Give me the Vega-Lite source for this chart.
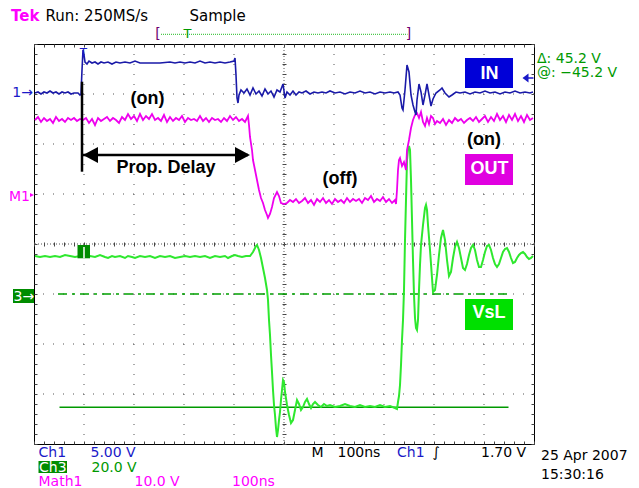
{
"$schema": "https://vega.github.io/schema/vega-lite/v6.json",
"width": 500, "height": 400,
"autosize": {"type": "none"},
"padding": {"left": 34, "top": 44, "right": 105, "bottom": 44},
"background": "white",
"config": {"view": {"stroke": "#000", "strokeWidth": 1}, "text": {"font": "DejaVu Sans"}},
"resolve": {"axis": {"x": "independent", "y": "independent"}},
"datasets": {
"inp": [{"t":2,"v":3.02},{"t":8,"v":3.04},{"t":14,"v":3.0},{"t":20,"v":3.04},{"t":26,"v":3.02},{"t":32,"v":3.06},{"t":38,"v":3.02},{"t":44,"v":3.04},{"t":50,"v":3.0},{"t":56,"v":3.04},{"t":62,"v":3.02},{"t":68,"v":3.04},{"t":74,"v":3.0},{"t":80,"v":3.02},{"t":88,"v":3.02},{"t":92,"v":2.98},{"t":94,"v":3.0},{"t":96,"v":3.48},{"t":98,"v":3.88},{"t":100,"v":3.78},{"t":102,"v":3.64},{"t":106,"v":3.6},{"t":110,"v":3.66},{"t":116,"v":3.62},{"t":122,"v":3.64},{"t":128,"v":3.6},{"t":134,"v":3.64},{"t":140,"v":3.62},{"t":148,"v":3.64},{"t":156,"v":3.6},{"t":164,"v":3.64},{"t":172,"v":3.62},{"t":182,"v":3.64},{"t":192,"v":3.62},{"t":202,"v":3.66},{"t":212,"v":3.62},{"t":232,"v":3.62},{"t":252,"v":3.62},{"t":272,"v":3.64},{"t":282,"v":3.62},{"t":292,"v":3.64},{"t":302,"v":3.62},{"t":312,"v":3.64},{"t":322,"v":3.62},{"t":332,"v":3.66},{"t":342,"v":3.62},{"t":352,"v":3.64},{"t":362,"v":3.62},{"t":372,"v":3.64},{"t":382,"v":3.62},{"t":392,"v":3.64},{"t":400,"v":3.66},{"t":402,"v":3.72},{"t":404,"v":3.38},{"t":406,"v":2.92},{"t":408,"v":2.82},{"t":410,"v":2.98},{"t":414,"v":3.08},{"t":420,"v":3.02},{"t":426,"v":3.1},{"t":432,"v":2.98},{"t":438,"v":3.12},{"t":444,"v":3.0},{"t":450,"v":3.06},{"t":456,"v":2.96},{"t":462,"v":3.1},{"t":468,"v":3.0},{"t":474,"v":3.06},{"t":480,"v":2.94},{"t":486,"v":3.08},{"t":492,"v":3.04},{"t":498,"v":3.2},{"t":502,"v":2.92},{"t":506,"v":3.04},{"t":512,"v":2.98},{"t":518,"v":3.06},{"t":524,"v":2.98},{"t":530,"v":3.04},{"t":536,"v":3.02},{"t":544,"v":3.06},{"t":552,"v":3.0},{"t":560,"v":3.04},{"t":568,"v":3.02},{"t":576,"v":3.04},{"t":584,"v":3.02},{"t":592,"v":3.06},{"t":602,"v":3.02},{"t":612,"v":3.04},{"t":622,"v":3.0},{"t":632,"v":3.04},{"t":642,"v":3.02},{"t":652,"v":3.06},{"t":662,"v":3.02},{"t":672,"v":3.04},{"t":682,"v":3.0},{"t":692,"v":3.04},{"t":702,"v":3.02},{"t":712,"v":3.04},{"t":720,"v":3.02},{"t":728,"v":3.04},{"t":732,"v":2.98},{"t":736,"v":2.72},{"t":738,"v":2.68},{"t":742,"v":3.08},{"t":746,"v":3.58},{"t":750,"v":3.44},{"t":754,"v":2.98},{"t":758,"v":2.78},{"t":762,"v":2.64},{"t":764,"v":2.58},{"t":766,"v":2.88},{"t":770,"v":3.2},{"t":774,"v":3.04},{"t":778,"v":2.78},{"t":782,"v":2.98},{"t":786,"v":3.2},{"t":790,"v":2.98},{"t":794,"v":2.76},{"t":798,"v":2.9},{"t":804,"v":3.02},{"t":812,"v":3.08},{"t":816,"v":3.12},{"t":822,"v":3.02},{"t":830,"v":2.94},{"t":836,"v":2.98},{"t":844,"v":3.04},{"t":852,"v":3.02},{"t":862,"v":3.04},{"t":872,"v":3.0},{"t":882,"v":3.04},{"t":892,"v":3.02},{"t":902,"v":3.06},{"t":912,"v":3.02},{"t":922,"v":3.04},{"t":932,"v":3.0},{"t":942,"v":3.04},{"t":952,"v":3.02},{"t":962,"v":3.06},{"t":972,"v":3.02},{"t":982,"v":3.04},{"t":992,"v":3.02},{"t":998,"v":3.04}],
"out": [{"t":2,"v":2.48},{"t":8,"v":2.54},{"t":14,"v":2.44},{"t":20,"v":2.52},{"t":26,"v":2.46},{"t":32,"v":2.5},{"t":38,"v":2.42},{"t":44,"v":2.54},{"t":50,"v":2.46},{"t":56,"v":2.5},{"t":62,"v":2.44},{"t":68,"v":2.52},{"t":74,"v":2.48},{"t":80,"v":2.52},{"t":86,"v":2.46},{"t":92,"v":2.5},{"t":98,"v":2.48},{"t":104,"v":2.52},{"t":110,"v":2.42},{"t":116,"v":2.5},{"t":122,"v":2.38},{"t":128,"v":2.52},{"t":134,"v":2.46},{"t":140,"v":2.5},{"t":146,"v":2.54},{"t":152,"v":2.46},{"t":158,"v":2.52},{"t":164,"v":2.48},{"t":170,"v":2.42},{"t":176,"v":2.54},{"t":182,"v":2.48},{"t":188,"v":2.6},{"t":194,"v":2.5},{"t":200,"v":2.56},{"t":206,"v":2.46},{"t":212,"v":2.6},{"t":218,"v":2.48},{"t":224,"v":2.56},{"t":230,"v":2.5},{"t":236,"v":2.6},{"t":242,"v":2.48},{"t":248,"v":2.52},{"t":254,"v":2.46},{"t":260,"v":2.58},{"t":266,"v":2.44},{"t":272,"v":2.54},{"t":278,"v":2.46},{"t":284,"v":2.52},{"t":290,"v":2.48},{"t":296,"v":2.56},{"t":302,"v":2.44},{"t":308,"v":2.52},{"t":314,"v":2.48},{"t":320,"v":2.5},{"t":326,"v":2.46},{"t":332,"v":2.56},{"t":338,"v":2.46},{"t":344,"v":2.52},{"t":350,"v":2.44},{"t":356,"v":2.52},{"t":362,"v":2.48},{"t":368,"v":2.5},{"t":374,"v":2.44},{"t":380,"v":2.52},{"t":386,"v":2.46},{"t":392,"v":2.56},{"t":398,"v":2.48},{"t":404,"v":2.54},{"t":410,"v":2.46},{"t":416,"v":2.5},{"t":422,"v":2.44},{"t":426,"v":2.52},{"t":428,"v":2.56},{"t":430,"v":2.38},{"t":432,"v":2.14},{"t":436,"v":1.88},{"t":438,"v":1.68},{"t":440,"v":1.58},{"t":444,"v":1.38},{"t":446,"v":1.28},{"t":450,"v":1.08},{"t":454,"v":0.92},{"t":458,"v":0.82},{"t":462,"v":0.68},{"t":466,"v":0.58},{"t":468,"v":0.52},{"t":472,"v":0.6},{"t":476,"v":0.74},{"t":480,"v":0.92},{"t":486,"v":1.04},{"t":490,"v":0.96},{"t":494,"v":0.82},{"t":500,"v":0.8},{"t":506,"v":0.82},{"t":512,"v":0.88},{"t":518,"v":0.84},{"t":524,"v":0.9},{"t":530,"v":0.82},{"t":536,"v":0.86},{"t":542,"v":0.92},{"t":548,"v":0.82},{"t":554,"v":0.88},{"t":560,"v":0.78},{"t":566,"v":0.9},{"t":572,"v":0.84},{"t":578,"v":0.92},{"t":584,"v":0.82},{"t":590,"v":0.88},{"t":596,"v":0.8},{"t":602,"v":0.9},{"t":608,"v":0.84},{"t":614,"v":0.88},{"t":620,"v":0.82},{"t":626,"v":0.92},{"t":632,"v":0.84},{"t":638,"v":0.9},{"t":644,"v":0.86},{"t":650,"v":0.9},{"t":656,"v":0.82},{"t":662,"v":0.92},{"t":668,"v":0.88},{"t":674,"v":0.96},{"t":680,"v":0.84},{"t":686,"v":0.9},{"t":692,"v":0.86},{"t":698,"v":0.94},{"t":704,"v":0.84},{"t":710,"v":0.9},{"t":716,"v":0.82},{"t":722,"v":0.88},{"t":724,"v":0.8},{"t":726,"v":1.08},{"t":728,"v":1.48},{"t":730,"v":1.68},{"t":732,"v":1.72},{"t":736,"v":1.56},{"t":740,"v":1.64},{"t":744,"v":1.48},{"t":746,"v":1.88},{"t":750,"v":2.08},{"t":754,"v":2.32},{"t":758,"v":2.48},{"t":762,"v":2.58},{"t":766,"v":2.62},{"t":770,"v":2.52},{"t":774,"v":2.64},{"t":778,"v":2.44},{"t":782,"v":2.36},{"t":786,"v":2.52},{"t":790,"v":2.4},{"t":794,"v":2.56},{"t":798,"v":2.52},{"t":802,"v":2.4},{"t":806,"v":2.46},{"t":812,"v":2.42},{"t":818,"v":2.5},{"t":824,"v":2.38},{"t":830,"v":2.48},{"t":836,"v":2.42},{"t":842,"v":2.52},{"t":848,"v":2.46},{"t":854,"v":2.5},{"t":860,"v":2.42},{"t":866,"v":2.48},{"t":872,"v":2.52},{"t":878,"v":2.46},{"t":884,"v":2.54},{"t":890,"v":2.44},{"t":896,"v":2.5},{"t":902,"v":2.56},{"t":908,"v":2.44},{"t":914,"v":2.54},{"t":920,"v":2.46},{"t":926,"v":2.6},{"t":932,"v":2.48},{"t":938,"v":2.56},{"t":944,"v":2.44},{"t":950,"v":2.58},{"t":956,"v":2.48},{"t":962,"v":2.6},{"t":968,"v":2.46},{"t":974,"v":2.56},{"t":980,"v":2.44},{"t":986,"v":2.58},{"t":992,"v":2.48},{"t":998,"v":2.52}],
"vsl": [{"t":2,"v":-0.24},{"t":12,"v":-0.26},{"t":22,"v":-0.24},{"t":32,"v":-0.26},{"t":42,"v":-0.24},{"t":52,"v":-0.26},{"t":62,"v":-0.22},{"t":72,"v":-0.24},{"t":82,"v":-0.26},{"t":92,"v":-0.24},{"t":102,"v":-0.26},{"t":112,"v":-0.24},{"t":122,"v":-0.26},{"t":132,"v":-0.22},{"t":142,"v":-0.26},{"t":148,"v":-0.28},{"t":156,"v":-0.24},{"t":162,"v":-0.26},{"t":172,"v":-0.24},{"t":182,"v":-0.28},{"t":188,"v":-0.24},{"t":196,"v":-0.26},{"t":202,"v":-0.28},{"t":212,"v":-0.24},{"t":222,"v":-0.26},{"t":232,"v":-0.24},{"t":242,"v":-0.28},{"t":252,"v":-0.24},{"t":262,"v":-0.26},{"t":272,"v":-0.24},{"t":282,"v":-0.28},{"t":292,"v":-0.26},{"t":302,"v":-0.24},{"t":312,"v":-0.26},{"t":322,"v":-0.24},{"t":332,"v":-0.26},{"t":342,"v":-0.24},{"t":352,"v":-0.28},{"t":362,"v":-0.24},{"t":372,"v":-0.26},{"t":382,"v":-0.24},{"t":388,"v":-0.28},{"t":396,"v":-0.24},{"t":402,"v":-0.22},{"t":408,"v":-0.24},{"t":416,"v":-0.26},{"t":424,"v":-0.24},{"t":432,"v":-0.24},{"t":438,"v":-0.16},{"t":444,"v":-0.04},{"t":446,"v":-0.02},{"t":450,"v":-0.12},{"t":454,"v":-0.28},{"t":458,"v":-0.48},{"t":462,"v":-0.68},{"t":466,"v":-0.92},{"t":468,"v":-1.12},{"t":470,"v":-1.52},{"t":472,"v":-1.82},{"t":474,"v":-2.22},{"t":476,"v":-2.56},{"t":478,"v":-2.92},{"t":480,"v":-3.22},{"t":482,"v":-3.42},{"t":484,"v":-3.68},{"t":486,"v":-3.86},{"t":488,"v":-3.72},{"t":490,"v":-3.52},{"t":492,"v":-3.36},{"t":494,"v":-3.12},{"t":496,"v":-2.92},{"t":498,"v":-2.72},{"t":500,"v":-2.76},{"t":502,"v":-2.96},{"t":506,"v":-3.22},{"t":510,"v":-3.42},{"t":514,"v":-3.58},{"t":518,"v":-3.52},{"t":522,"v":-3.32},{"t":526,"v":-3.12},{"t":530,"v":-3.2},{"t":534,"v":-3.32},{"t":538,"v":-3.26},{"t":542,"v":-3.16},{"t":546,"v":-3.1},{"t":550,"v":-3.2},{"t":554,"v":-3.28},{"t":558,"v":-3.2},{"t":562,"v":-3.16},{"t":568,"v":-3.22},{"t":574,"v":-3.26},{"t":580,"v":-3.2},{"t":586,"v":-3.24},{"t":592,"v":-3.22},{"t":602,"v":-3.26},{"t":612,"v":-3.24},{"t":622,"v":-3.2},{"t":632,"v":-3.24},{"t":642,"v":-3.26},{"t":652,"v":-3.22},{"t":662,"v":-3.26},{"t":672,"v":-3.24},{"t":682,"v":-3.26},{"t":692,"v":-3.22},{"t":702,"v":-3.26},{"t":712,"v":-3.24},{"t":722,"v":-3.28},{"t":726,"v":-3.3},{"t":728,"v":-3.16},{"t":730,"v":-3.04},{"t":732,"v":-2.82},{"t":734,"v":-2.42},{"t":736,"v":-1.92},{"t":738,"v":-1.52},{"t":740,"v":-0.92},{"t":742,"v":0.08},{"t":744,"v":0.88},{"t":746,"v":1.68},{"t":748,"v":1.88},{"t":750,"v":1.96},{"t":752,"v":1.88},{"t":754,"v":1.28},{"t":756,"v":0.48},{"t":758,"v":-0.32},{"t":760,"v":-1.02},{"t":762,"v":-1.48},{"t":764,"v":-1.68},{"t":766,"v":-1.72},{"t":768,"v":-1.52},{"t":770,"v":-0.92},{"t":772,"v":-0.42},{"t":774,"v":-0.02},{"t":778,"v":0.38},{"t":782,"v":0.72},{"t":784,"v":0.78},{"t":786,"v":0.68},{"t":788,"v":0.38},{"t":792,"v":-0.12},{"t":796,"v":-0.68},{"t":798,"v":-0.96},{"t":802,"v":-0.92},{"t":806,"v":-0.62},{"t":810,"v":-0.22},{"t":814,"v":0.12},{"t":818,"v":0.28},{"t":822,"v":0.08},{"t":826,"v":-0.32},{"t":830,"v":-0.64},{"t":834,"v":-0.56},{"t":838,"v":-0.28},{"t":842,"v":-0.06},{"t":846,"v":0.04},{"t":850,"v":-0.08},{"t":854,"v":-0.28},{"t":858,"v":-0.48},{"t":862,"v":-0.52},{"t":866,"v":-0.4},{"t":870,"v":-0.22},{"t":874,"v":-0.08},{"t":878,"v":-0.02},{"t":882,"v":-0.12},{"t":886,"v":-0.32},{"t":890,"v":-0.46},{"t":894,"v":-0.46},{"t":898,"v":-0.32},{"t":902,"v":-0.16},{"t":906,"v":-0.04},{"t":910,"v":-0.02},{"t":914,"v":-0.12},{"t":918,"v":-0.28},{"t":922,"v":-0.4},{"t":926,"v":-0.46},{"t":930,"v":-0.4},{"t":934,"v":-0.28},{"t":938,"v":-0.16},{"t":942,"v":-0.1},{"t":946,"v":-0.08},{"t":950,"v":-0.16},{"t":954,"v":-0.28},{"t":958,"v":-0.38},{"t":962,"v":-0.36},{"t":966,"v":-0.28},{"t":970,"v":-0.22},{"t":974,"v":-0.18},{"t":978,"v":-0.16},{"t":982,"v":-0.2},{"t":986,"v":-0.26},{"t":990,"v":-0.3},{"t":994,"v":-0.28},{"t":998,"v":-0.24}]
},
"layer": [
{"data": {"values": [{"t":100},{"t":200},{"t":300},{"t":400},{"t":600},{"t":700},{"t":800},{"t":900}]},
 "mark": {"type": "rule", "stroke": "#555", "strokeDash": [1, 9], "strokeWidth": 1},
 "encoding": {"x": {"field": "t", "type": "quantitative", "scale": {"domain": [0, 1000], "nice": false, "zero": false}, "axis": {"orient": "bottom", "tickCount": 50, "tickSize": -3, "labels": false, "domain": false, "grid": false, "title": null, "tickColor": "#444"}}}},
{"data": {"values": [{"d":-3},{"d":-2},{"d":-1},{"d":1},{"d":2},{"d":3}]},
 "mark": {"type": "rule", "stroke": "#555", "strokeDash": [1, 9], "strokeWidth": 1},
 "encoding": {"y": {"field": "d", "type": "quantitative", "scale": {"domain": [-4, 4], "nice": false, "zero": false}, "axis": {"orient": "left", "tickCount": 40, "tickSize": -3, "labels": false, "domain": false, "grid": false, "title": null, "tickColor": "#444"}}}},
{"data": {"values": [{"t":500}]},
 "mark": {"type": "rule", "stroke": "#555", "strokeDash": [1, 2], "strokeWidth": 1},
 "encoding": {"x": {"field": "t", "type": "quantitative", "scale": {"domain": [0, 1000], "nice": false, "zero": false}, "axis": {"orient": "top", "tickCount": 50, "tickSize": -3, "labels": false, "domain": false, "grid": false, "title": null, "tickColor": "#444"}}}},
{"data": {"values": [{"d":0}]},
 "mark": {"type": "rule", "stroke": "#555", "strokeDash": [1, 2], "strokeWidth": 1},
 "encoding": {"y": {"field": "d", "type": "quantitative", "scale": {"domain": [-4, 4], "nice": false, "zero": false}, "axis": {"orient": "right", "tickCount": 40, "tickSize": -3, "labels": false, "domain": false, "grid": false, "title": null, "tickColor": "#444"}}}},
{"data": {"values": [{"t":48,"t2":948,"d":-1.0}]},
 "mark": {"type": "rule", "stroke": "#00a000", "strokeDash": [9, 5, 3, 5], "strokeWidth": 1.5},
 "encoding": {"x": {"field": "t", "type": "quantitative", "scale": {"domain": [0, 1000], "nice": false, "zero": false}, "axis": null}, "x2": {"field": "t2"}, "y": {"field": "d", "type": "quantitative", "scale": {"domain": [-4, 4], "nice": false, "zero": false}, "axis": null}}},
{"data": {"values": [{"t":51,"t2":949,"d":-3.266}]},
 "mark": {"type": "rule", "stroke": "#009900", "strokeWidth": 1.5},
 "encoding": {"x": {"field": "t", "type": "quantitative", "scale": {"domain": [0, 1000], "nice": false, "zero": false}, "axis": null}, "x2": {"field": "t2"}, "y": {"field": "d", "type": "quantitative", "scale": {"domain": [-4, 4], "nice": false, "zero": false}, "axis": null}}},
{"data": {"name": "vsl"},
 "mark": {"type": "line", "stroke": "#2ee82e", "strokeWidth": 2},
 "encoding": {"x": {"field": "t", "type": "quantitative", "scale": {"domain": [0, 1000], "nice": false, "zero": false}, "axis": null}, "y": {"field": "v", "type": "quantitative", "scale": {"domain": [-4, 4], "nice": false, "zero": false}, "axis": null}}},
{"data": {"name": "out"},
 "mark": {"type": "line", "stroke": "#ee00ee", "strokeWidth": 1.8},
 "encoding": {"x": {"field": "t", "type": "quantitative", "scale": {"domain": [0, 1000], "nice": false, "zero": false}, "axis": null}, "y": {"field": "v", "type": "quantitative", "scale": {"domain": [-4, 4], "nice": false, "zero": false}, "axis": null}}},
{"data": {"name": "inp"},
 "mark": {"type": "line", "stroke": "#1a1aa8", "strokeWidth": 1.6},
 "encoding": {"x": {"field": "t", "type": "quantitative", "scale": {"domain": [0, 1000], "nice": false, "zero": false}, "axis": {"orient": "bottom", "offset": -202, "tickCount": 50, "tickSize": 4, "labels": false, "domain": false, "grid": false, "title": null, "tickColor": "#444"}}, "y": {"field": "v", "type": "quantitative", "scale": {"domain": [-4, 4], "nice": false, "zero": false}, "axis": {"orient": "left", "offset": -252, "tickCount": 40, "tickSize": 4, "labels": false, "domain": false, "grid": false, "title": null, "tickColor": "#444"}}}},
{"data": {"values": [{"t":96,"d":3.246,"d2":1.446}]},
 "mark": {"type": "rule", "stroke": "#000", "strokeWidth": 2.5},
 "encoding": {"x": {"field": "t", "type": "quantitative", "scale": {"domain": [0, 1000], "nice": false, "zero": false}, "axis": null}, "y": {"field": "d", "type": "quantitative", "scale": {"domain": [-4, 4], "nice": false, "zero": false}, "axis": null}, "y2": {"field": "d2"}}},
{"data": {"values": [{"t":98,"t2":428,"d":1.78}]},
 "mark": {"type": "rule", "stroke": "#000", "strokeWidth": 2.5},
 "encoding": {"x": {"field": "t", "type": "quantitative", "scale": {"domain": [0, 1000], "nice": false, "zero": false}, "axis": null}, "x2": {"field": "t2"}, "y": {"field": "d", "type": "quantitative", "scale": {"domain": [-4, 4], "nice": false, "zero": false}, "axis": null}}},
{"data": {"values": [{"t":113,"d":1.78}]},
 "mark": {"type": "point", "shape": "M-1,0L1,-1.07L1,1.07Z", "size": 225, "filled": true, "fill": "#000", "opacity": 1, "strokeWidth": 0},
 "encoding": {"x": {"field": "t", "type": "quantitative", "scale": {"domain": [0, 1000], "nice": false, "zero": false}, "axis": null}, "y": {"field": "d", "type": "quantitative", "scale": {"domain": [-4, 4], "nice": false, "zero": false}, "axis": null}}},
{"data": {"values": [{"t":417,"d":1.78}]},
 "mark": {"type": "point", "shape": "M1,0L-1,-1.07L-1,1.07Z", "size": 225, "filled": true, "fill": "#000", "opacity": 1, "strokeWidth": 0},
 "encoding": {"x": {"field": "t", "type": "quantitative", "scale": {"domain": [0, 1000], "nice": false, "zero": false}, "axis": null}, "y": {"field": "d", "type": "quantitative", "scale": {"domain": [-4, 4], "nice": false, "zero": false}, "axis": null}}},
{"data": {"values": [{"t":983,"d":3.32}]},
 "mark": {"type": "point", "shape": "M-1,0L1,-1.5L1,1.5Z", "size": 36, "filled": true, "fill": "#1a1ac8", "opacity": 1, "strokeWidth": 0},
 "encoding": {"x": {"field": "t", "type": "quantitative", "scale": {"domain": [0, 1000], "nice": false, "zero": false}, "axis": null}, "y": {"field": "d", "type": "quantitative", "scale": {"domain": [-4, 4], "nice": false, "zero": false}, "axis": null}}},
{"data": {"values": [{"t":983,"t2":999,"d":3.32}]},
 "mark": {"type": "rule", "stroke": "#1a1ac8", "strokeWidth": 1.5},
 "encoding": {"x": {"field": "t", "type": "quantitative", "scale": {"domain": [0, 1000], "nice": false, "zero": false}, "axis": null}, "x2": {"field": "t2"}, "y": {"field": "d", "type": "quantitative", "scale": {"domain": [-4, 4], "nice": false, "zero": false}, "axis": null}}},
{"data": {"values": [{"t":-4,"d":0.98}]},
 "mark": {"type": "point", "shape": "M1,0L-1,-1L-1,1Z", "size": 16, "filled": true, "fill": "#ff00ff", "opacity": 1, "strokeWidth": 0},
 "encoding": {"x": {"field": "t", "type": "quantitative", "scale": {"domain": [0, 1000], "nice": false, "zero": false}, "axis": null}, "y": {"field": "d", "type": "quantitative", "scale": {"domain": [-4, 4], "nice": false, "zero": false}, "axis": null}}},
{"data": {"values": [{"t":254,"t2":747,"d":4.194}]},
 "mark": {"type": "rule", "stroke": "#22bb22", "strokeDash": [1, 1], "strokeWidth": 1},
 "encoding": {"x": {"field": "t", "type": "quantitative", "scale": {"domain": [0, 1000], "nice": false, "zero": false}, "axis": null}, "x2": {"field": "t2"}, "y": {"field": "d", "type": "quantitative", "scale": {"domain": [-4, 4], "nice": false, "zero": false}, "axis": null}}},
{"data": {"values": [{"t":862,"t2":958,"d":3.72,"d2":3.12}]},
 "mark": {"type": "rect", "fill": "#0000d8"},
 "encoding": {"x": {"field": "t", "type": "quantitative", "scale": {"domain": [0, 1000], "nice": false, "zero": false}, "axis": null}, "x2": {"field": "t2"}, "y": {"field": "d", "type": "quantitative", "scale": {"domain": [-4, 4], "nice": false, "zero": false}, "axis": null}, "y2": {"field": "d2"}}},
{"data": {"values": [{"t":862,"t2":958,"d":1.8,"d2":1.18}]},
 "mark": {"type": "rect", "fill": "#e000e0"},
 "encoding": {"x": {"field": "t", "type": "quantitative", "scale": {"domain": [0, 1000], "nice": false, "zero": false}, "axis": null}, "x2": {"field": "t2"}, "y": {"field": "d", "type": "quantitative", "scale": {"domain": [-4, 4], "nice": false, "zero": false}, "axis": null}, "y2": {"field": "d2"}}},
{"data": {"values": [{"t":862,"t2":958,"d":-1.1,"d2":-1.72}]},
 "mark": {"type": "rect", "fill": "#00e000"},
 "encoding": {"x": {"field": "t", "type": "quantitative", "scale": {"domain": [0, 1000], "nice": false, "zero": false}, "axis": null}, "x2": {"field": "t2"}, "y": {"field": "d", "type": "quantitative", "scale": {"domain": [-4, 4], "nice": false, "zero": false}, "axis": null}, "y2": {"field": "d2"}}},
{"data": {"values": [{"t":-42,"t2":0,"d":-0.9,"d2":-1.18},{"t":9,"t2":66,"d":-4.34,"d2":-4.58},{"t":87,"t2":112,"d":-0.02,"d2":-0.286}]},
 "mark": {"type": "rect", "fill": "#008c00"},
 "encoding": {"x": {"field": "t", "type": "quantitative", "scale": {"domain": [0, 1000], "nice": false, "zero": false}, "axis": null}, "x2": {"field": "t2"}, "y": {"field": "d", "type": "quantitative", "scale": {"domain": [-4, 4], "nice": false, "zero": false}, "axis": null}, "y2": {"field": "d2"}}},
{"data": {"values": [{"t":100,"d":-0.06,"d2":-0.286}]},
 "mark": {"type": "rule", "stroke": "#ffffff", "strokeWidth": 1.5},
 "encoding": {"x": {"field": "t", "type": "quantitative", "scale": {"domain": [0, 1000], "nice": false, "zero": false}, "axis": null}, "y": {"field": "d", "type": "quantitative", "scale": {"domain": [-4, 4], "nice": false, "zero": false}, "axis": null}, "y2": {"field": "d2"}}},
{"data": {"values": [{"t":227,"d":2.8,"s":"(on)"},{"t":264,"d":1.42,"s":"Prop. Delay"},{"t":612,"d":1.2,"s":"(off)"},{"t":900,"d":1.98,"s":"(on)"}]},
 "mark": {"type": "text", "font": "Liberation Sans", "fontWeight": "bold", "fontSize": 18, "fill": "#000", "align": "center", "baseline": "alphabetic"},
 "encoding": {"x": {"field": "t", "type": "quantitative", "scale": {"domain": [0, 1000], "nice": false, "zero": false}, "axis": null}, "y": {"field": "d", "type": "quantitative", "scale": {"domain": [-4, 4], "nice": false, "zero": false}, "axis": null}, "text": {"field": "s"}}},
{"data": {"values": [{"t":911,"d":3.31,"s":"IN"},{"t":911,"d":1.4,"s":"OUT"},{"t":910,"d":-1.48,"s":"VsL"}]},
 "mark": {"type": "text", "font": "Liberation Sans", "fontWeight": "bold", "fontSize": 18, "fill": "#fff", "align": "center", "baseline": "alphabetic"},
 "encoding": {"x": {"field": "t", "type": "quantitative", "scale": {"domain": [0, 1000], "nice": false, "zero": false}, "axis": null}, "y": {"field": "d", "type": "quantitative", "scale": {"domain": [-4, 4], "nice": false, "zero": false}, "axis": null}, "text": {"field": "s"}}},
{"data": {"values": [{"t":-41,"d":-1.14,"s":"3→"},{"t":10,"d":-4.554,"s":"Ch3"}]},
 "mark": {"type": "text", "fontSize": 14, "fill": "#fff", "align": "left", "baseline": "alphabetic"},
 "encoding": {"x": {"field": "t", "type": "quantitative", "scale": {"domain": [0, 1000], "nice": false, "zero": false}, "axis": null}, "y": {"field": "d", "type": "quantitative", "scale": {"domain": [-4, 4], "nice": false, "zero": false}, "axis": null}, "text": {"field": "s"}}},
{"data": {"values": [{"t":23,"d":4.46,"s":"Run: 250MS/s"},{"t":311,"d":4.46,"s":"Sample"}]},
 "mark": {"type": "text", "fontSize": 15, "fill": "#000", "align": "left", "baseline": "alphabetic"},
 "encoding": {"x": {"field": "t", "type": "quantitative", "scale": {"domain": [0, 1000], "nice": false, "zero": false}, "axis": null}, "y": {"field": "d", "type": "quantitative", "scale": {"domain": [-4, 4], "nice": false, "zero": false}, "axis": null}, "text": {"field": "s"}}},
{"data": {"values": [{"t":555,"d":-4.254,"s":"M"},{"t":607,"d":-4.254,"s":"100ns"},{"t":797,"d":-4.254,"s":"∫"},{"t":894,"d":-4.254,"s":"1.70 V"},{"t":1014,"d":-4.32,"s":"25 Apr 2007"},{"t":1014,"d":-4.7,"s":"15:30:16"}]},
 "mark": {"type": "text", "fontSize": 14, "fill": "#000", "align": "left", "baseline": "alphabetic"},
 "encoding": {"x": {"field": "t", "type": "quantitative", "scale": {"domain": [0, 1000], "nice": false, "zero": false}, "axis": null}, "y": {"field": "d", "type": "quantitative", "scale": {"domain": [-4, 4], "nice": false, "zero": false}, "axis": null}, "text": {"field": "s"}}},
{"data": {"values": [{"t":-46,"d":4.46,"s":"Tek"}]},
 "mark": {"type": "text", "fontSize": 15, "fontWeight": "bold", "fill": "#ff00ff", "align": "left", "baseline": "alphabetic"},
 "encoding": {"x": {"field": "t", "type": "quantitative", "scale": {"domain": [0, 1000], "nice": false, "zero": false}, "axis": null}, "y": {"field": "d", "type": "quantitative", "scale": {"domain": [-4, 4], "nice": false, "zero": false}, "axis": null}, "text": {"field": "s"}}},
{"data": {"values": [{"t":9,"d":-4.254,"s":"Ch1"},{"t":113,"d":-4.254,"s":"5.00 V"},{"t":726,"d":-4.254,"s":"Ch1"}]},
 "mark": {"type": "text", "fontSize": 14, "fill": "#1a1ac8", "align": "left", "baseline": "alphabetic"},
 "encoding": {"x": {"field": "t", "type": "quantitative", "scale": {"domain": [0, 1000], "nice": false, "zero": false}, "axis": null}, "y": {"field": "d", "type": "quantitative", "scale": {"domain": [-4, 4], "nice": false, "zero": false}, "axis": null}, "text": {"field": "s"}}},
{"data": {"values": [{"t":115,"d":-4.554,"s":"20.0 V"},{"t":1006,"d":3.63,"s":"Δ: 45.2 V"},{"t":1006,"d":3.35,"s":"@: −45.2 V"}]},
 "mark": {"type": "text", "fontSize": 14, "fill": "#009900", "align": "left", "baseline": "alphabetic"},
 "encoding": {"x": {"field": "t", "type": "quantitative", "scale": {"domain": [0, 1000], "nice": false, "zero": false}, "axis": null}, "y": {"field": "d", "type": "quantitative", "scale": {"domain": [-4, 4], "nice": false, "zero": false}, "axis": null}, "text": {"field": "s"}}},
{"data": {"values": [{"t":9,"d":-4.84,"s":"Math1"},{"t":201,"d":-4.84,"s":"10.0 V"},{"t":396,"d":-4.84,"s":"100ns"}]},
 "mark": {"type": "text", "fontSize": 14, "fill": "#ff00ff", "align": "left", "baseline": "alphabetic"},
 "encoding": {"x": {"field": "t", "type": "quantitative", "scale": {"domain": [0, 1000], "nice": false, "zero": false}, "axis": null}, "y": {"field": "d", "type": "quantitative", "scale": {"domain": [-4, 4], "nice": false, "zero": false}, "axis": null}, "text": {"field": "s"}}},
{"data": {"values": [{"t":-2,"d":2.94,"s":"1→"}]},
 "mark": {"type": "text", "fontSize": 14, "fill": "#1a1ac8", "align": "right", "baseline": "alphabetic"},
 "encoding": {"x": {"field": "t", "type": "quantitative", "scale": {"domain": [0, 1000], "nice": false, "zero": false}, "axis": null}, "y": {"field": "d", "type": "quantitative", "scale": {"domain": [-4, 4], "nice": false, "zero": false}, "axis": null}, "text": {"field": "s"}}},
{"data": {"values": [{"t":-8,"d":0.87,"s":"M1"}]},
 "mark": {"type": "text", "fontSize": 14, "fill": "#ff00ff", "align": "right", "baseline": "alphabetic"},
 "encoding": {"x": {"field": "t", "type": "quantitative", "scale": {"domain": [0, 1000], "nice": false, "zero": false}, "axis": null}, "y": {"field": "d", "type": "quantitative", "scale": {"domain": [-4, 4], "nice": false, "zero": false}, "axis": null}, "text": {"field": "s"}}},
{"data": {"values": [{"t":248,"d":4.194,"s":"["},{"t":749,"d":4.194,"s":"]"}]},
 "mark": {"type": "text", "fontSize": 14, "fill": "#700070", "align": "center", "baseline": "middle"},
 "encoding": {"x": {"field": "t", "type": "quantitative", "scale": {"domain": [0, 1000], "nice": false, "zero": false}, "axis": null}, "y": {"field": "d", "type": "quantitative", "scale": {"domain": [-4, 4], "nice": false, "zero": false}, "axis": null}, "text": {"field": "s"}}},
{"data": {"values": [{"t":307,"d":4.194,"s":"T"}]},
 "mark": {"type": "text", "fontSize": 13, "fill": "#009900", "align": "center", "baseline": "middle"},
 "encoding": {"x": {"field": "t", "type": "quantitative", "scale": {"domain": [0, 1000], "nice": false, "zero": false}, "axis": null}, "y": {"field": "d", "type": "quantitative", "scale": {"domain": [-4, 4], "nice": false, "zero": false}, "axis": null}, "text": {"field": "s"}}},
{"data": {"values": [{"t":99,"d":3.74,"s":"T"}]},
 "mark": {"type": "text", "fontSize": 12, "fill": "#1a1ac8", "align": "center", "baseline": "alphabetic"},
 "encoding": {"x": {"field": "t", "type": "quantitative", "scale": {"domain": [0, 1000], "nice": false, "zero": false}, "axis": null}, "y": {"field": "d", "type": "quantitative", "scale": {"domain": [-4, 4], "nice": false, "zero": false}, "axis": null}, "text": {"field": "s"}}}
]
}
